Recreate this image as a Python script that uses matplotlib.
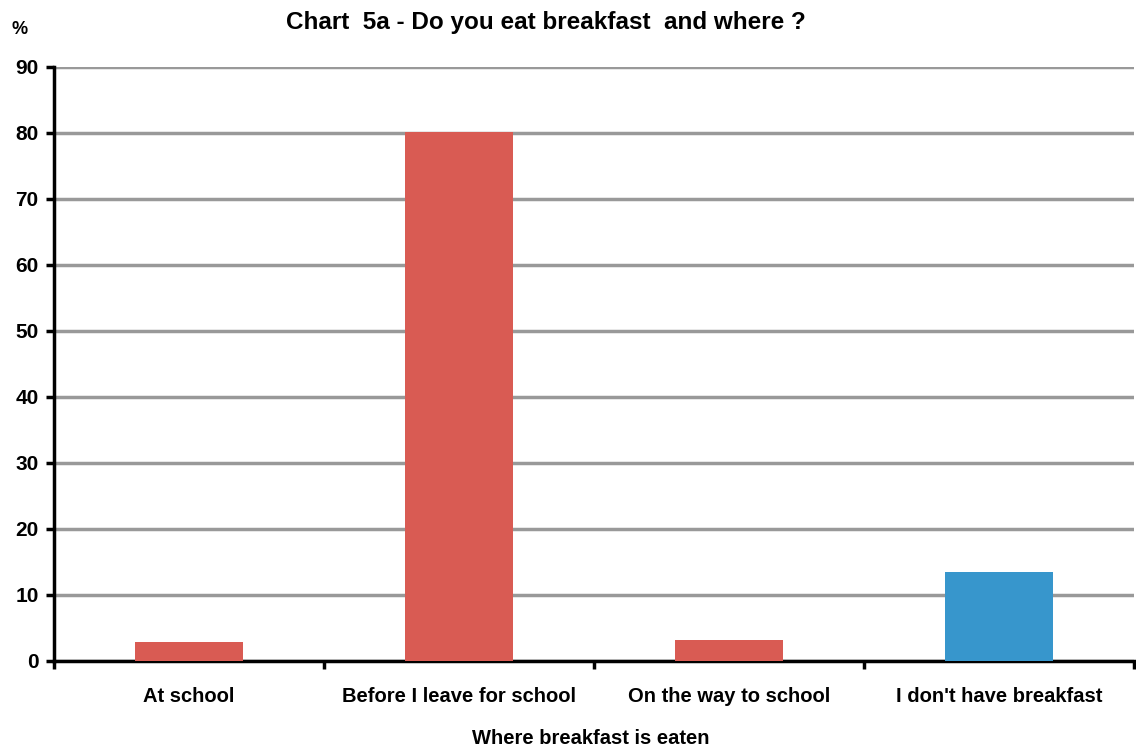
import matplotlib.pyplot as plt
import numpy as np

plt.rcParams['font.family'] = ['Liberation Sans', 'DejaVu Sans']
plt.rcParams['font.weight'] = 'bold'

categories = ['At school', 'Before I leave for school', 'On the way to school', "I don't have breakfast"]
values = [2.9, 80.2, 3.2, 13.5]
colors = ['#D95B53', '#D95B53', '#D95B53', '#3796CC']

fig = plt.figure(figsize=(11.36, 7.47), dpi=100)
ax = fig.add_axes([54/1136, 1 - 661/747, 1080/1136, 594/747])

x = np.arange(len(categories))
ax.bar(x, values, width=0.4, color=colors, zorder=3)

ax.set_xlim(-0.5, len(categories) - 0.5)
ax.set_ylim(0, 90)
ax.set_yticks(np.arange(0, 91, 10))
ax.yaxis.grid(True, color='#999999', linewidth=2.5, zorder=0)
ax.set_axisbelow(True)

ax.set_xticks(x)
ax.set_xticklabels(categories, fontsize=14.5, fontweight='bold')
ax.set_xticks(np.arange(-0.5, len(categories)), minor=True)
ax.tick_params(axis='x', which='major', length=0, pad=19)
ax.tick_params(axis='x', which='minor', length=6, width=2.5, direction='out')
ax.tick_params(axis='y', length=6, width=2.5, labelsize=15, pad=5)
for lab in ax.get_yticklabels():
    lab.set_fontweight('bold')

for s in ['top', 'right']:
    ax.spines[s].set_visible(False)
for s in ['left', 'bottom']:
    ax.spines[s].set_linewidth(2.5)

fig.text(591/1136, 1 - 738/747, 'Where breakfast is eaten', ha='center', va='center',
         fontsize=14.5, fontweight='bold')
fig.text(546/1136, 1 - 22/747, 'Chart  5a - Do you eat breakfast  and where ?', ha='center', va='center',
         fontsize=17.5, fontweight='bold')
fig.text(20/1136, 1 - 30/747, '%', ha='center', va='center', fontsize=13, fontweight='bold')

fig.savefig('out.png', dpi=100)
